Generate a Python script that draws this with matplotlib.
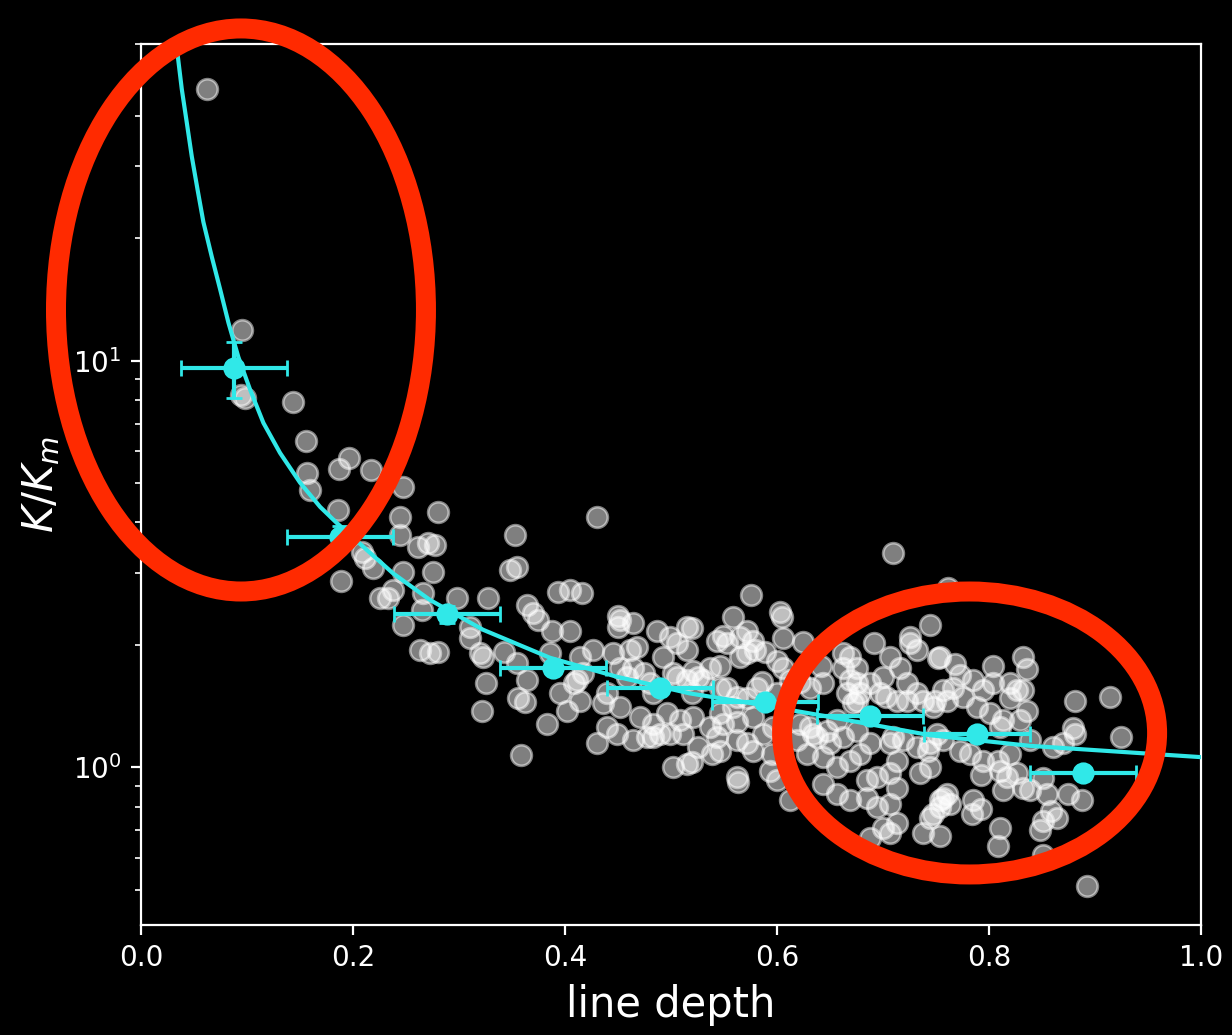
import matplotlib
matplotlib.use("Agg")
import matplotlib.pyplot as plt
from matplotlib.patches import Ellipse

# scatter: individual lines (depth, K/Km)
depth = [
    0.062, 0.095, 0.098, 0.094, 0.143, 0.156, 0.196, 0.187, 0.217, 0.157,
    0.159, 0.247, 0.186, 0.244, 0.280, 0.244, 0.261, 0.271, 0.277, 0.208,
    0.211, 0.219, 0.247, 0.275, 0.189, 0.238, 0.225, 0.233, 0.266, 0.265,
    0.247, 0.298, 0.327, 0.263, 0.273, 0.280, 0.310, 0.320, 0.323, 0.310,
    0.325, 0.322, 0.353, 0.430, 0.348, 0.355, 0.342, 0.355, 0.364, 0.356,
    0.362, 0.364, 0.370, 0.374, 0.388, 0.405, 0.393, 0.405, 0.416, 0.383,
    0.358, 0.386, 0.395, 0.402, 0.411, 0.417, 0.426, 0.445, 0.452, 0.464,
    0.440, 0.452, 0.430, 0.449, 0.464, 0.471, 0.483, 0.487, 0.499, 0.515,
    0.492, 0.506, 0.515, 0.502, 0.515, 0.521, 0.496, 0.508, 0.499, 0.483,
    0.502, 0.515, 0.464, 0.468,
    0.709, 0.575, 0.558, 0.603, 0.605, 0.520, 0.543, 0.549, 0.572, 0.577,
    0.606, 0.624, 0.589, 0.579, 0.565, 0.572, 0.537, 0.546, 0.600, 0.606,
    0.525, 0.530, 0.586, 0.641, 0.520, 0.546, 0.562, 0.572, 0.612, 0.622,
    0.600, 0.631, 0.643, 0.537, 0.549, 0.562, 0.577, 0.572, 0.562, 0.587,
    0.596, 0.539, 0.525, 0.520, 0.593, 0.600, 0.563, 0.612, 0.595, 0.619,
    0.638, 0.631, 0.669, 0.662, 0.675, 0.691, 0.707, 0.716, 0.725, 0.744,
    0.754, 0.688, 0.675, 0.666, 0.675, 0.697, 0.713, 0.723, 0.738, 0.747,
    0.757, 0.650, 0.662, 0.675, 0.688, 0.707, 0.719, 0.732, 0.744, 0.643,
    0.657, 0.669, 0.678, 0.643, 0.657, 0.669, 0.685, 0.694, 0.707, 0.713,
    0.685, 0.694, 0.707, 0.688, 0.707, 0.700, 0.713, 0.735, 0.744, 0.738,
    0.744, 0.754, 0.757, 0.751, 0.757, 0.761,
    0.752, 0.768, 0.804, 0.832, 0.836, 0.773, 0.785, 0.794, 0.766, 0.775,
    0.820, 0.826, 0.832, 0.820, 0.749, 0.760, 0.801, 0.813, 0.836, 0.829,
    0.881, 0.914, 0.879, 0.881, 0.924, 0.860, 0.870, 0.839, 0.794, 0.808,
    0.820, 0.810, 0.817, 0.826, 0.813, 0.832, 0.839, 0.851, 0.874, 0.888,
    0.754, 0.763, 0.747, 0.785, 0.792, 0.784, 0.858, 0.864, 0.851, 0.848,
    0.810, 0.808, 0.754, 0.851, 0.892,
    0.450, 0.450, 0.414, 0.461, 0.553, 0.565, 0.408, 0.452, 0.458, 0.474,
    0.480, 0.506, 0.553, 0.581, 0.414, 0.436, 0.483, 0.521, 0.558, 0.546,
    0.440, 0.477, 0.490, 0.511, 0.543, 0.546, 0.577, 0.562, 0.662, 0.669,
    0.678, 0.672, 0.725, 0.732, 0.700, 0.723, 0.732, 0.703, 0.622, 0.634,
    0.647, 0.657, 0.709, 0.742, 0.628, 0.713, 0.804, 0.789, 0.810, 0.773,
    0.782, 0.792, 0.855, 0.760,
]
k_ratio = [
    46.5, 11.9, 8.11, 8.25, 7.93, 6.35, 5.77, 5.42, 5.39, 5.30,
    4.81, 4.90, 4.30, 4.13, 4.25, 3.73, 3.48, 3.56, 3.52, 3.39,
    3.27, 3.09, 3.02, 3.02, 2.87, 2.73, 2.61, 2.61, 2.68, 2.44,
    2.24, 2.61, 2.61, 1.94, 1.91, 1.92, 2.21, 1.91, 1.87, 2.08,
    1.61, 1.38, 3.73, 4.13, 3.06, 3.11, 1.92, 1.81, 1.64, 1.48,
    1.45, 2.51, 2.39, 2.30, 2.17, 2.17, 2.70, 2.73, 2.68, 1.28,
    1.07, 1.91, 1.52, 1.38, 1.64, 1.71, 1.94, 1.91, 2.30, 2.26,
    1.52, 1.41, 1.15, 1.21, 1.17, 1.33, 1.52, 2.17, 2.09, 2.21,
    1.87, 2.02, 1.94, 1.71, 1.64, 1.73, 1.36, 1.31, 1.21, 1.19,
    1.00, 1.02, 1.76, 1.98,
    3.37, 2.65, 2.34, 2.41, 2.34, 2.20, 2.05, 2.11, 2.17, 2.05,
    2.08, 2.03, 1.92, 1.94, 1.87, 1.91, 1.76, 1.78, 1.83, 1.76,
    1.67, 1.64, 1.62, 1.78, 1.52, 1.57, 1.49, 1.48, 1.64, 1.62,
    1.52, 1.57, 1.61, 1.26, 1.28, 1.29, 1.33, 1.15, 1.17, 1.21,
    1.26, 1.08, 1.12, 1.03, 0.98, 0.93, 0.92, 0.83, 1.08, 1.17,
    1.19, 1.26, 1.87, 1.76, 1.76, 2.02, 1.87, 1.76, 2.02, 2.24,
    1.87, 1.61, 1.61, 1.52, 1.46, 1.52, 1.46, 1.46, 1.46, 1.41,
    1.55, 1.15, 1.19, 1.23, 1.15, 1.15, 1.17, 1.12, 1.15, 1.06,
    1.00, 1.04, 1.08, 0.91, 0.86, 0.83, 0.93, 0.945, 0.97, 0.89,
    0.84, 0.80, 0.815, 0.67, 0.69, 0.71, 0.73, 0.97, 1.00, 0.69,
    0.75, 0.80, 0.84, 1.21, 1.17, 2.76,
    1.86, 1.80, 1.78, 1.87, 1.75, 1.69, 1.64, 1.55, 1.57, 1.49,
    1.61, 1.55, 1.55, 1.48, 1.46, 1.46, 1.36, 1.31, 1.38, 1.31,
    1.46, 1.49, 1.25, 1.21, 1.19, 1.12, 1.15, 1.17, 1.04, 1.04,
    1.08, 0.98, 0.945, 0.97, 0.88, 0.89, 0.88, 0.94, 0.86, 0.83,
    0.83, 0.815, 0.77, 0.83, 0.79, 0.77, 0.78, 0.75, 0.74, 0.70,
    0.71, 0.64, 0.68, 0.61, 0.51,
    2.36, 2.21, 1.87, 1.94, 2.02, 2.09, 1.61, 1.76, 1.67, 1.71,
    1.61, 1.67, 1.57, 1.57, 1.46, 1.44, 1.28, 1.33, 1.41, 1.36,
    1.26, 1.19, 1.21, 1.21, 1.19, 1.10, 1.10, 0.945, 1.91, 1.64,
    1.52, 1.44, 2.09, 1.94, 1.67, 1.61, 1.52, 1.49, 1.28, 1.21,
    1.23, 1.31, 1.19, 1.10, 1.08, 1.04, 1.61, 1.41, 1.26, 1.10,
    1.08, 0.96, 0.86, 0.86,
]

# model curve
fit_depth = [0.033, 0.0342, 0.0384, 0.0431, 0.0478, 0.0532, 0.0588, 0.0667,
             0.0745, 0.0824, 0.0918, 0.1028, 0.1154, 0.1311, 0.150, 0.1689,
             0.1846, 0.2132, 0.2377, 0.2726, 0.3226, 0.3858, 0.4491, 0.5179,
             0.5745, 0.6434, 0.7443, 0.8387, 1.0]
fit_k = [60.4, 57.3, 46.5, 38.5, 31.8, 26.4, 21.9, 18.0,
         15.0, 12.4, 10.2, 8.49, 7.03, 5.93, 5.01, 4.37,
         3.99, 3.42, 3.00, 2.58, 2.18, 1.86, 1.67, 1.52,
         1.44, 1.34, 1.20, 1.13, 1.06]

# binned means
bin_depth = [0.088, 0.188, 0.289, 0.389, 0.490, 0.589, 0.688, 0.789, 0.889]
bin_k = [9.6, 3.68, 2.38, 1.76, 1.57, 1.45, 1.34, 1.21, 0.967]
bin_derr = [0.05, 0.05, 0.05, 0.05, 0.05, 0.05, 0.05, 0.05, 0.05]
bin_kerr = [1.5, 0.25, 0.12, 0.06, 0.05, 0.04, 0.04, 0.04, 0.03]

cyan = '#30e8e8'
red = '#ff2a00'

plt.style.use('dark_background')
fig = plt.figure(figsize=(6.16, 5.175), dpi=200)
ax = fig.add_axes([0.1145, 0.1063, 0.8604, 0.8512])

ax.scatter(depth, k_ratio, s=55, c='white', alpha=0.5, linewidths=1.0, zorder=2)
ax.plot(fit_depth, fit_k, color=cyan, lw=1.5, zorder=3)
ax.errorbar(bin_depth, bin_k, xerr=bin_derr, yerr=bin_kerr, fmt='o', color=cyan,
            ms=7, capsize=3, elinewidth=1.5, zorder=4)

ax.set_yscale('log')
ax.set_xlim(0, 1)
ax.set_ylim(0.41, 60)
ax.set_xlabel('line depth', fontsize=15)
ax.set_ylabel(r'$K/K_m$', fontsize=15)

# red annotation rings
for cx, cy, w, h in [(0.1956, 0.7005, 0.3003, 0.544), (0.787, 0.2918, 0.3044, 0.2734)]:
    e = Ellipse((cx, cy), w, h, transform=fig.transFigure, fill=False,
                edgecolor=red, lw=7.2, zorder=10)
    fig.add_artist(e)

fig.savefig('out.png', dpi=200)
